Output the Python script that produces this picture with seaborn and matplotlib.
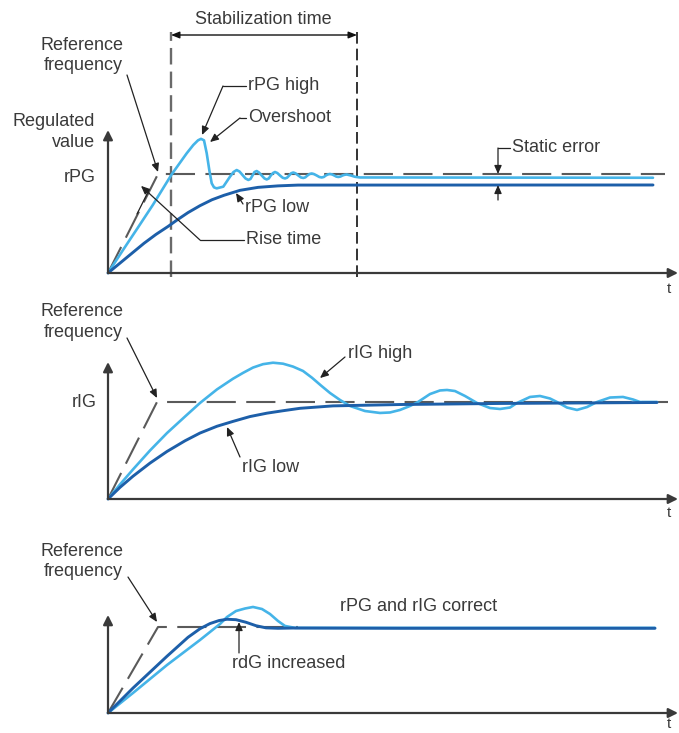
import matplotlib
matplotlib.use("Agg")
import matplotlib.pyplot as plt
import seaborn as sns

# Curves. t = time in drawing units from the origin,
# value = regulated value relative to the reference (reference = 1).

# panel 1 - proportional gain
p1_ref_t = [0, 50, 557]
p1_ref_v = [0, 1.0, 1.0]
p1_high_t = [0, 15, 30, 45, 63.7, 78.7, 85.3, 90, 93, 96, 98.7, 101.3, 103.7, 106, 108.7,
             115.3, 122, 125.5, 128.7, 131.5, 134.5, 137.5, 140.3, 142.5, 144.5, 146.5,
             148.7, 151, 153.7, 156.5, 158.7, 160.8, 162.8, 165, 167, 169.3, 172, 174.7,
             177, 179, 181.2, 183.3, 185.3, 187.5, 190.3, 193, 195.3, 197.3, 199.5, 201.6,
             203.7, 206, 208.7, 211.3, 213.7, 215.8, 217.8, 220, 222, 224.2, 226.2, 228.3,
             230.3, 232.4, 234.5, 236.6, 238.7, 242.8, 247, 252, 545]
p1_high_v = [0, 0.232, 0.46, 0.69, 0.997, 1.209, 1.293, 1.34, 1.355, 1.34, 1.21, 1.04, 0.906,
             0.865, 0.855, 0.872, 0.973, 1.02, 1.04, 1.025, 0.99, 0.955, 0.94, 0.95, 0.985,
             1.02, 1.03, 1.015, 0.985, 0.955, 0.945, 0.955, 0.985, 1.01, 1.02, 1.01, 0.985,
             0.962, 0.955, 0.962, 0.985, 1.008, 1.015, 1.007, 0.985, 0.965, 0.96, 0.966,
             0.985, 1.0, 1.005, 0.999, 0.985, 0.97, 0.965, 0.97, 0.985, 0.996, 1.0, 0.995,
             0.985, 0.974, 0.97, 0.974, 0.985, 0.992, 0.995, 0.985, 0.972, 0.965, 0.962]
p1_low_t = [0, 12, 24, 36, 48, 60, 69, 80, 92, 104, 116, 132, 150, 170, 190, 545]
p1_low_v = [0, 0.10, 0.20, 0.30, 0.39, 0.47, 0.535, 0.61, 0.68, 0.74, 0.785, 0.835, 0.865,
            0.88, 0.888, 0.889]

# panel 2 - integral gain
p2_ref_t = [0, 49, 560]
p2_ref_v = [0, 1.0, 1.0]
p2_high_t = [0, 12, 25, 42, 59, 77, 92, 109, 125, 135, 145, 155, 165, 175, 185, 195, 204,
             213, 222, 232, 242, 257, 272, 282, 292, 302, 310, 322, 332, 339, 347, 357, 369,
             382, 392, 402, 409, 422, 432, 442, 449, 459, 469, 479, 489, 502, 515, 525, 532,
             549]
p2_high_v = [0, 0.15, 0.305, 0.5, 0.68, 0.85, 0.99, 1.13, 1.24, 1.30, 1.355, 1.39, 1.405,
             1.395, 1.365, 1.32, 1.25, 1.17, 1.093, 1.021, 0.959, 0.907, 0.887, 0.892, 0.918,
             0.959, 1.0, 1.082, 1.119, 1.124, 1.113, 1.062, 0.99, 0.938, 0.928, 0.943, 0.99,
             1.052, 1.062, 1.036, 1.0, 0.943, 0.918, 0.948, 1.0, 1.046, 1.052, 1.026, 1.0, 1.0]
p2_low_t = [0, 12, 25, 42, 59, 77, 92, 109, 125, 142, 159, 175, 192, 225, 292, 392, 549]
p2_low_v = [0, 0.12, 0.235, 0.37, 0.49, 0.6, 0.68, 0.75, 0.8, 0.85, 0.885, 0.91, 0.935,
            0.96, 0.974, 0.985, 0.995]

# panel 3 - derivative gain
p3_ref_t = [0, 50, 190]
p3_ref_v = [0, 1.0, 1.0]
p3_high_t = [0, 25, 59, 92, 112, 119, 128, 137, 145, 154, 162, 170, 177, 187, 292, 547]
p3_high_v = [0, 0.233, 0.558, 0.849, 1.035, 1.116, 1.186, 1.215, 1.233, 1.209, 1.151, 1.07,
             1.012, 0.99, 0.99, 0.99]
p3_low_t = [0, 25, 59, 80, 92, 102, 111, 119, 128, 138, 148, 158, 170, 185, 292, 547]
p3_low_v = [0, 0.29, 0.66, 0.88, 0.98, 1.04, 1.075, 1.09, 1.085, 1.055, 1.015, 0.99, 0.985,
            0.988, 0.985, 0.985]

LIGHT = "#45b4e8"
DARK = "#1d5fa9"
REF = "#5a5a5a"
INK = "#3a3a3a"

sns.set_theme(style="white")
plt.rcParams["font.family"] = ["Liberation Sans", "DejaVu Sans"]

W, H = 679, 733
fig = plt.figure(figsize=(W / 100, H / 100), dpi=100)


def make_panel(top, bottom, origin_y, unit):
    ax = fig.add_axes([0, 1 - bottom / H, 1, (bottom - top) / H])
    ax.set_axis_off()
    return ax, (-108, W - 108), ((origin_y - bottom) / unit, (origin_y - top) / unit)


def axes_arrows(ax, ytop, tlabel_y):
    style = dict(arrowstyle="-|>", color=INK, lw=1.6, mutation_scale=14, shrinkA=0, shrinkB=0)
    ax.annotate("", xy=(570, 0), xytext=(0, 0), arrowprops=style)
    ax.annotate("", xy=(0, ytop), xytext=(0, 0), arrowprops=style)
    ax.text(561, tlabel_y, "t", fontsize=11, color=INK, ha="center", va="center")


def leader(ax, pts, arrow=True):
    xs = [p[0] for p in pts]
    ys = [p[1] for p in pts]
    ax.plot(xs[:-1], ys[:-1], color="#222222", lw=0.9)
    ax.annotate("", xy=pts[-1], xytext=pts[-2],
                arrowprops=dict(arrowstyle="-|>,head_length=0.5,head_width=0.22" if arrow else "-",
                                color="#222222", lw=0.9, mutation_scale=10,
                                shrinkA=0, shrinkB=0))


def curves(ax, lims, ref_t, ref_v, hi_t, hi_v, lo_t, lo_v):
    ax.plot(ref_t, ref_v, color=REF, lw=1.5, ls=(0, (14, 5)))
    sns.lineplot(x=hi_t, y=hi_v, ax=ax, color=LIGHT, linewidth=1.9, sort=False, estimator=None)
    sns.lineplot(x=lo_t, y=lo_v, ax=ax, color=DARK, linewidth=2.1, sort=False, estimator=None)
    ax.set_xlim(*lims[0])
    ax.set_ylim(*lims[1])
    ax.set_axis_off()


txt = dict(fontsize=13, color=INK)

# ---------------- panel 1 ----------------
ax1, xl, yl = make_panel(0, 290, 273, 99)
for tx, col, lw in [(63, "#6a6a6a", 1.7), (249, "#111111", 1.2)]:
    ax1.plot([tx, tx], [-0.04, 2.434], color=col, lw=lw, ls=(0, (7, 3)))
curves(ax1, (xl, yl), p1_ref_t, p1_ref_v, p1_high_t, p1_high_v, p1_low_t, p1_low_v)
axes_arrows(ax1, 1.444, -0.16)

ax1.annotate("", xy=(63, 2.404), xytext=(249, 2.404),
             arrowprops=dict(arrowstyle="<|-|>,head_length=0.5,head_width=0.2", color="#111111",
                             lw=1.0, mutation_scale=10, shrinkA=0, shrinkB=0))
ax1.text(155, 2.556, "Stabilization time", ha="center", va="center", **txt)
ax1.text(15, 2.197, "Reference\nfrequency", ha="right", va="center", multialignment="right",
         linespacing=1.25, **txt)
ax1.text(-13, 1.424, "Regulated\nvalue", ha="right", va="center", multialignment="right",
         linespacing=1.25, **txt)
ax1.text(-12, 0.96, "rPG", ha="right", va="center", **txt)
ax1.text(140, 1.889, "rPG high", ha="left", va="center", **txt)
ax1.text(140, 1.566, "Overshoot", ha="left", va="center", **txt)
ax1.text(137, 0.657, "rPG low", ha="left", va="center", **txt)
ax1.text(138, 0.343, "Rise time", ha="left", va="center", **txt)
ax1.text(404, 1.263, "Static error", ha="left", va="center", **txt)

leader(ax1, [(19, 2.0), (50, 1.02)])
leader(ax1, [(138, 1.889), (115, 1.889), (94, 1.394)])
leader(ax1, [(138, 1.566), (132, 1.566), (102, 1.323)])
leader(ax1, [(135, 0.697), (128, 0.808)])
leader(ax1, [(136, 0.333), (92, 0.333), (33, 0.88)])
ax1.plot([29, 41], [0.596, 0.838], color="#222222", lw=0.9)
ax1.plot([390, 402], [1.263, 1.263], color="#222222", lw=0.9)
leader(ax1, [(390, 1.263), (390, 1.0)])
leader(ax1, [(390, 0.737), (390, 0.889)])

# ---------------- panel 2 ----------------
ax2, xl, yl = make_panel(290, 520, 499, 97)
curves(ax2, (xl, yl), p2_ref_t, p2_ref_v, p2_high_t, p2_high_v, p2_low_t, p2_low_v)
axes_arrows(ax2, 1.412, -0.144)
ax2.text(15, 1.825, "Reference\nfrequency", ha="right", va="center", multialignment="right",
         linespacing=1.25, **txt)
ax2.text(-11, 0.99, "rIG", ha="right", va="center", **txt)
ax2.text(240, 1.505, "rIG high", ha="left", va="center", **txt)
ax2.text(134, 0.32, "rIG low", ha="left", va="center", **txt)
leader(ax2, [(19, 1.66), (49, 1.041)])
leader(ax2, [(237, 1.464), (212, 1.247)])
leader(ax2, [(132, 0.433), (119, 0.742)])

# ---------------- panel 3 ----------------
ax3, xl, yl = make_panel(520, 733, 713, 86)
curves(ax3, (xl, yl), p3_ref_t, p3_ref_v, p3_high_t, p3_high_v, p3_low_t, p3_low_v)
axes_arrows(ax3, 1.14, -0.125)
ax3.text(15, 1.762, "Reference\nfrequency", ha="right", va="center", multialignment="right",
         linespacing=1.25, **txt)
ax3.text(232, 1.233, "rPG and rIG correct", ha="left", va="center", **txt)
ax3.text(124, 0.57, "rdG increased", ha="left", va="center", **txt)
leader(ax3, [(20, 1.581), (49, 1.058)])
leader(ax3, [(131, 0.698), (131, 1.058)])

fig.savefig("out.png", dpi=100)
